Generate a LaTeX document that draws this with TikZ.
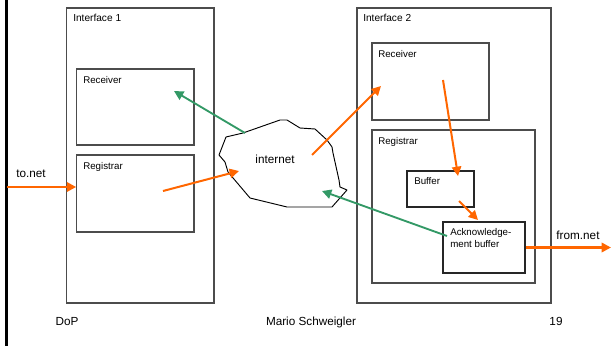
\documentclass[tikz,border=0pt]{standalone}
\usepackage{fontspec}
\setmainfont{Liberation Sans}
\usetikzlibrary{arrows.meta,positioning,fit}
\definecolor{netorange}{RGB}{255,102,0}
\definecolor{netgreen}{RGB}{51,153,102}
\newcommand{\ArrTip}{Triangle[length=7pt,width=7pt]}
\tikzset{box/.style={draw=black!70,line width=.8pt,inner sep=0pt}}
\tikzset{lbl/.style={font=\fontsize{7.3}{9.5}\selectfont,inner sep=0pt,anchor=north west,align=left}}
\tikzset{big/.style={font=\fontsize{8.8}{10}\selectfont,inner sep=0pt}}
\tikzset{oarr/.style={-{\ArrTip},draw=netorange,line width=1.5pt}}
\tikzset{garr/.style={-{\ArrTip},draw=netgreen,line width=1.4pt}}

\begin{document}
\begin{tikzpicture}[x=.75pt,y=-.75pt]
\useasboundingbox (0,0) rectangle (611,346);
\fill[black] (5,0) rectangle (7.5,346);
% interface 1
\node[box,fit={(66.7,8) (214,303)}] (int1) {};
\node[box,fit={(76.7,69) (194,145)}] (rcv1) {};
\node[box,fit={(76.7,155) (194,232)}] (reg1) {};
\node[lbl,font=\fontsize{7.6}{9}\selectfont] at (73,14) (int1lbl) {Interface 1};
\node[lbl] at (83,76) (rcv1lbl) {Receiver};
\node[lbl] at (83,162) (reg1lbl) {Registrar};
% interface 2
\node[box,fit={(357,8) (551,303)}] (int2) {};
\node[box,fit={(372,43) (489,120)}] (rcv2) {};
\node[box,fit={(372,130) (535,283)}] (reg2) {};
\node[box,draw=black!85,fit={(407,171) (474,207)}] (buf) {};
\node[box,draw=black!85,fit={(443,222) (525,273)}] (ack) {};
\node[lbl,font=\fontsize{7.6}{9}\selectfont] at (363,14) (int2lbl) {Interface 2};
\node[lbl] at (378,50) (rcv2lbl) {Receiver};
\node[lbl] at (378,137) (reg2lbl) {Registrar};
\node[lbl] at (414,177) (buflbl) {Buffer};
\node[lbl] at (450,228) (acklbl) {Acknowledge-\\ment buffer};
% the net
\draw[line width=.7pt,line join=bevel] (226,137)--(243,133)--(280,120)--(287,120)--(300,128)--(315,129)--(327,140)--(332,147)--(333,153)--(339,180)--(340,187)--(347,190)--(332,207)--(287,207)--(250,198)--(228,172)--(225,162)--(219,155)--cycle;
\node[big] at (275,159) (net) {internet};
% free ends of the flows
\coordinate (tonet) at (7,187);
\coordinate (fromnet) at (611,247.5);
\coordinate (netnw) at (245,133);
\coordinate (rcv1in) at (174,91);
\coordinate (reg1out) at (163,191);
\coordinate (netw) at (239,171);
\coordinate (netc) at (312,155);
\coordinate (rcv2in) at (381,86);
\coordinate (rcv2out) at (443,80);
\coordinate (bufin) at (458,176);
\coordinate (bufout) at (459,201);
\coordinate (ackin) at (478,220);
\coordinate (ackout) at (447,236);
\coordinate (netse) at (322,191);
\draw[oarr,line width=1.8pt] (tonet)--(tonet-|reg1.west);
\draw[garr] (netnw)--(rcv1in);
\draw[oarr] (reg1out)--(netw);
\draw[oarr] (netc)--(rcv2in);
\draw[oarr] (rcv2out)--(bufin);
\draw[oarr] (bufout)--(ackin);
\draw[garr] (ackout)--(netse);
\draw[oarr,line width=1.8pt] (ack.east|-fromnet)--(fromnet);
\node[big] at (31,174) (tonetlbl) {to.net};
\node[big] at (578,235.5) (fromnetlbl) {from.net};
% footer
\node[big,anchor=base] at (67,325) (dop) {DoP};
\node[big,anchor=base] at (311,325) (author) {Mario Schweigler};
\node[big,anchor=base] at (556,325) (pageno) {19};
\end{tikzpicture}
\end{document}
